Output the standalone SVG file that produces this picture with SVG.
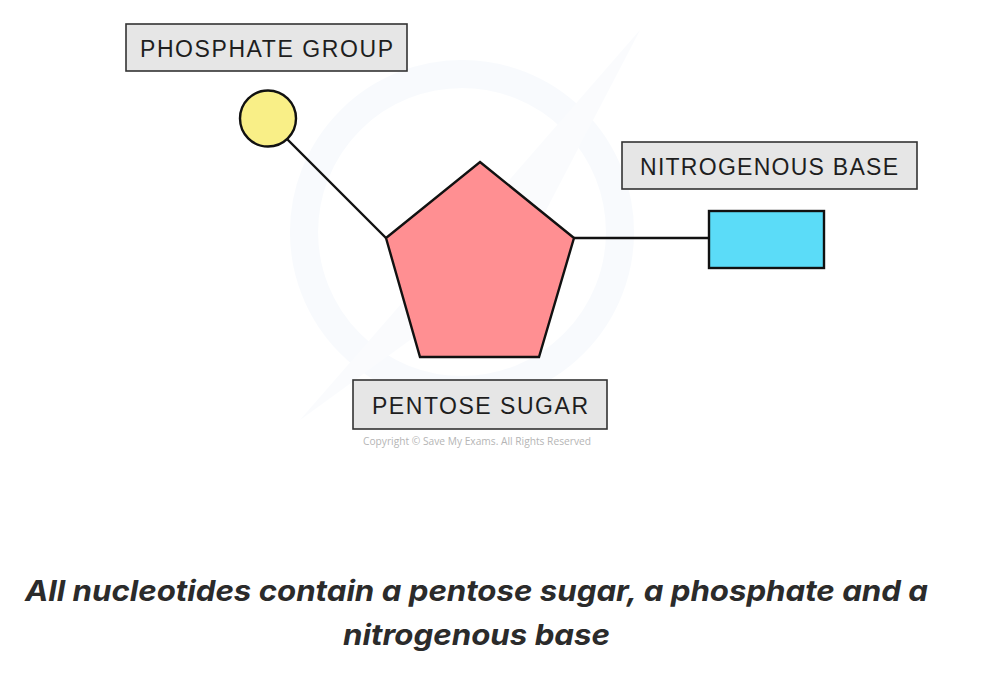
<svg xmlns="http://www.w3.org/2000/svg" width="1005" height="682" viewBox="0 0 1005 682">
<style>
.lbl{fill:#e6e6e6;stroke:#333;stroke-width:1.6}
.lt{font-family:"Liberation Sans",Arial,sans-serif;font-size:23px;fill:#1e1e1e}
.ln{stroke:#111;stroke-width:2.4;fill:none}
.cap{font-family:Inter,"Liberation Sans",sans-serif;font-size:29px;font-weight:700;font-style:italic;fill:#2b2b2b}
</style>
<rect width="1005" height="682" fill="#fff"/>
<g id="watermark" opacity="0.4">
<circle cx="462" cy="232" r="158" fill="none" stroke="#eef4fb" stroke-width="28"/>
<path d="M300 420 L640 30 L520 260 Z" fill="#f3f7fc"/>
</g>
<g id="connectors">
<line class="ln" x1="287" y1="139" x2="386" y2="238"/>
<line class="ln" x1="574" y1="238" x2="709" y2="238"/>
</g>
<g id="phosphate">
<circle cx="268" cy="118.5" r="28" fill="#f9ef87" stroke="#111" stroke-width="2.4"/>
</g>
<g id="pentose">
<polygon points="480,162 574,238 539,357 420,357 386,238" fill="#ff8f92" stroke="#111" stroke-width="2.4" stroke-linejoin="miter"/>
</g>
<g id="base">
<rect x="709" y="211" width="115" height="57" fill="#5bdcf8" stroke="#111" stroke-width="2.4"/>
</g>
<g id="label-phosphate">
<rect class="lbl" x="126" y="24" width="281" height="47"/>
<text class="lt" x="140" y="57" textLength="253" lengthAdjust="spacing">PHOSPHATE  GROUP</text>
</g>
<g id="label-base">
<rect class="lbl" x="622" y="142" width="295" height="47"/>
<text class="lt" x="640" y="175" textLength="258" lengthAdjust="spacing">NITROGENOUS  BASE</text>
</g>
<g id="label-pentose">
<rect class="lbl" x="353" y="380" width="254" height="49"/>
<text class="lt" x="372" y="414" textLength="216" lengthAdjust="spacing">PENTOSE  SUGAR</text>
</g>
<text x="477" y="445" text-anchor="middle" font-family="'Open Sans','Liberation Sans',sans-serif" font-size="10.2" fill="#b5b5b5" textLength="228" lengthAdjust="spacingAndGlyphs">Copyright © Save My Exams. All Rights Reserved</text>
<g id="caption">
<text class="cap" x="25" y="601" textLength="903" lengthAdjust="spacingAndGlyphs">All nucleotides contain a pentose sugar, a phosphate and a</text>
<text class="cap" x="343" y="645" textLength="267" lengthAdjust="spacingAndGlyphs">nitrogenous base</text>
</g>
</svg>
